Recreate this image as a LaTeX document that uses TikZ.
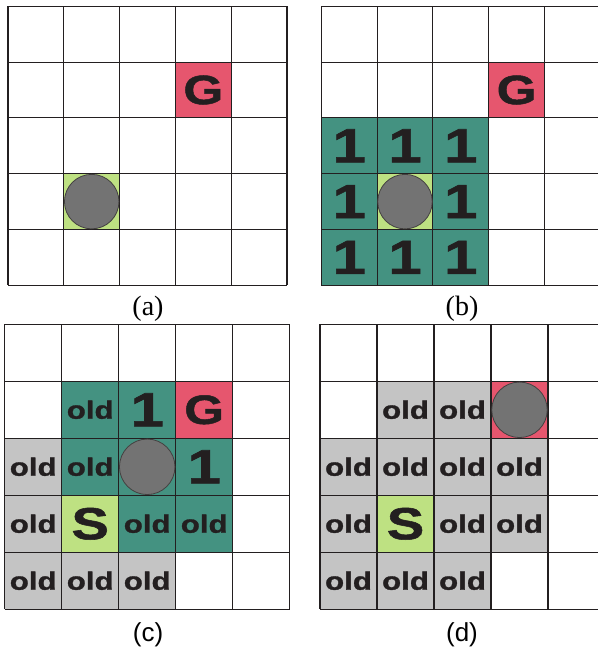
\documentclass[tikz,border=0pt]{standalone}
\usepackage{fontspec}
\setmainfont{Liberation Serif}
\setsansfont{Liberation Sans}
\newfontfamily\heavyfont[FakeStretch=1.25, FakeBold=1.2]{Liberation Sans Bold}
\definecolor{ink}{RGB}{35,31,32}
\definecolor{tealc}{RGB}{68,146,129}
\definecolor{redc}{RGB}{230,86,110}
\definecolor{greenc}{RGB}{190,225,130}
\definecolor{greyc}{RGB}{196,196,196}
\definecolor{ballc}{RGB}{115,115,115}
\tikzset{
  gridline/.style={draw=ink, line width=1.1pt},
  tealcell/.style={fill=tealc},
  redcell/.style={fill=redc},
  greencell/.style={fill=greenc},
  greycell/.style={fill=greyc},
  num/.style={text=ink, font=\heavyfont\fontsize{48}{48}\selectfont, inner sep=0pt},
  goal/.style={text=ink, font=\heavyfont\fontsize{41}{41}\selectfont, inner sep=0pt},
  start/.style={text=ink, font=\heavyfont\fontsize{45}{45}\selectfont, inner sep=0pt},
  oldtxt/.style={text=ink, font=\heavyfont\fontsize{25}{25}\selectfont, inner sep=0pt},
  ball/.style={circle, draw=ink!85, line width=0.8pt, fill=ballc, inner sep=0pt, minimum size=#1},
  serlabel/.style={text=black, font=\rmfamily\fontsize{28}{28}\selectfont, inner sep=0pt},
  sanslabel/.style={text=black, font=\sffamily\fontsize{26}{26}\selectfont, inner sep=0pt}
}
\newcommand{\gridfive}{\foreach \i in {0,...,5} {\draw[gridline] (\i,0) -- (\i,5); \draw[gridline] (0,\i) -- (5,\i);}}
\begin{document}
\begin{tikzpicture}[x=1pt,y=-1pt]
\useasboundingbox (0,0) rectangle (598,649);
\clip (0,0) rectangle (598,649);
\fill[white] (0,0) rectangle (598,649);

% ---------- (a)
\begin{scope}[xshift=8pt, yshift=-6.3pt, x=55.8pt, y=-55.8pt]
  \fill[redcell] (3,1) rectangle (4,2);
  \fill[greencell] (1,3) rectangle (2,4);
  \gridfive
  \node[goal] (aG) at (3.5,1.5) {G};
  \node[ball=54.5pt] (aball) at (1.5,3.5) {};
\end{scope}
\node[serlabel] (la) at (148,309) {(a)};

% ---------- (b)
\begin{scope}[xshift=321.3pt, yshift=-6.3pt, x=55.8pt, y=-55.8pt]
  \fill[redcell] (3,1) rectangle (4,2);
  \fill[tealcell] (0,2) rectangle (3,5);
  \fill[greencell] (1,3) rectangle (2,4);
  \gridfive
  \node[goal] (bG) at (3.5,1.5) {G};
  \node[num] (b1) at (0.5,2.5) {1};
  \node[num] (b2) at (1.5,2.5) {1};
  \node[num] (b3) at (2.5,2.5) {1};
  \node[num] (b4) at (0.5,3.5) {1};
  \node[num] (b5) at (2.5,3.5) {1};
  \node[num] (b6) at (0.5,4.5) {1};
  \node[num] (b7) at (1.5,4.5) {1};
  \node[num] (b8) at (2.5,4.5) {1};
  \node[ball=54.5pt] (bball) at (1.5,3.5) {};
\end{scope}
\node[serlabel] (lb) at (462,309) {(b)};

% ---------- (c)
\begin{scope}[xshift=4.7pt, yshift=-324.3pt, x=57pt, y=-57pt]
  \fill[tealcell] (1,1) rectangle (3,2);
  \fill[redcell] (3,1) rectangle (4,2);
  \fill[tealcell] (1,2) rectangle (4,4);
  \fill[greycell] (0,2) rectangle (1,5);
  \fill[greycell] (1,4) rectangle (3,5);
  \fill[greencell] (1,3) rectangle (2,4);
  \gridfive
  \node[oldtxt] (c11) at (1.5,1.5) {old};
  \node[num] (c12) at (2.5,1.5) {1};
  \node[goal] (cG) at (3.5,1.5) {G};
  \node[oldtxt] (c20) at (0.5,2.5) {old};
  \node[oldtxt] (c21) at (1.5,2.5) {old};
  \node[ball=55.5pt] (cball) at (2.5,2.5) {};
  \node[num] (c23) at (3.5,2.5) {1};
  \node[oldtxt] (c30) at (0.5,3.5) {old};
  \node[start] (cS) at (1.5,3.5) {S};
  \node[oldtxt] (c32) at (2.5,3.5) {old};
  \node[oldtxt] (c33) at (3.5,3.5) {old};
  \node[oldtxt] (c40) at (0.5,4.5) {old};
  \node[oldtxt] (c41) at (1.5,4.5) {old};
  \node[oldtxt] (c42) at (2.5,4.5) {old};
\end{scope}
\node[sanslabel] (lc) at (148,635) {(c)};

% ---------- (d)
\begin{scope}[xshift=320pt, yshift=-324.3pt, x=57pt, y=-57pt]
  \fill[greycell] (1,1) rectangle (3,2);
  \fill[redcell] (3,1) rectangle (4,2);
  \fill[greycell] (0,2) rectangle (4,4);
  \fill[greycell] (0,4) rectangle (3,5);
  \fill[greencell] (1,3) rectangle (2,4);
  \gridfive
  \node[oldtxt] (d11) at (1.5,1.5) {old};
  \node[oldtxt] (d12) at (2.5,1.5) {old};
  \node[ball=55.5pt] (dball) at (3.5,1.5) {};
  \node[oldtxt] (d20) at (0.5,2.5) {old};
  \node[oldtxt] (d21) at (1.5,2.5) {old};
  \node[oldtxt] (d22) at (2.5,2.5) {old};
  \node[oldtxt] (d23) at (3.5,2.5) {old};
  \node[oldtxt] (d30) at (0.5,3.5) {old};
  \node[start] (dS) at (1.5,3.5) {S};
  \node[oldtxt] (d32) at (2.5,3.5) {old};
  \node[oldtxt] (d33) at (3.5,3.5) {old};
  \node[oldtxt] (d40) at (0.5,4.5) {old};
  \node[oldtxt] (d41) at (1.5,4.5) {old};
  \node[oldtxt] (d42) at (2.5,4.5) {old};
\end{scope}
\node[sanslabel] (ld) at (462,635) {(d)};
\end{tikzpicture}
\end{document}
